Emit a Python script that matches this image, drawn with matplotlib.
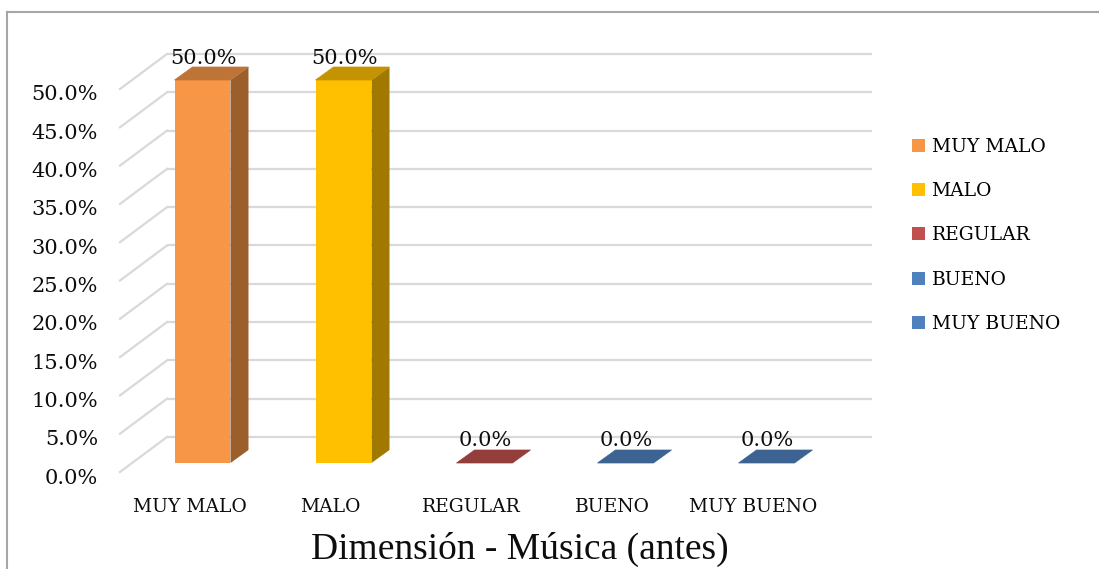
import matplotlib.pyplot as plt
from matplotlib.patches import Patch, Polygon, Rectangle
from matplotlib.transforms import ScaledTranslation


CATEGORIES = ["MUY MALO", "MALO", "REGULAR", "BUENO", "MUY BUENO"]
VALUES = [50.0, 50.0, 0.0, 0.0, 0.0]
Y_TICKS = [0, 5, 10, 15, 20, 25, 30, 35, 40, 45, 50]
TITLE = "Dimensión - Música (antes)"

COLORS = ["#F79646", "#FFC000", "#C0504D", "#4F81BD", "#4F81BD"]

DPI = 100
W_PX, H_PX = 1099, 569
GRID_COLOR = "#D9D9D9"
TEXT_COLOR = "#0d0d0d"
TICK_FONT = "DejaVu Serif"
TITLE_FONT = "Liberation Serif"


def shade(color, factor):
    r = int(color[1:3], 16) * factor
    g = int(color[3:5], 16) * factor
    b = int(color[5:7], 16) * factor
    return (r / 255, g / 255, b / 255)


def px_to_data(ax, dx_px, dy_px):
    # pixel offset -> data offset (linear scales)
    x0, y0 = ax.transData.transform((0, 0))
    x1, y1 = ax.transData.inverted().transform((x0 + dx_px, y0 + dy_px))
    return x1, y1


def px_shift(ax, dx_px, dy_px):
    return ax.transData + ScaledTranslation(dx_px / DPI, dy_px / DPI, ax.figure.dpi_scale_trans)


def draw_walls(ax, xmin, xmax):
    fx, fy = px_to_data(ax, -12, -9)
    bx, by = px_to_data(ax, 35, 26)
    for t in Y_TICKS:
        ax.plot([xmin + bx, xmax + bx], [t + by, t + by], color=GRID_COLOR, lw=1.6,
                zorder=1, clip_on=False, solid_capstyle="butt")
        ax.plot([xmin + fx, xmin + bx], [t + fy, t + by], color=GRID_COLOR, lw=1.6,
                zorder=1, clip_on=False)
        ax.text(xmin + fx, t + fy, f"{t:.1f}%", transform=px_shift(ax, -22, -6),
                ha="right", va="center", fontsize=15, family=TICK_FONT, color=TEXT_COLOR)


def draw_bars(ax, width):
    dx, dy = px_to_data(ax, 18, 13)
    for i, (value, color) in enumerate(zip(VALUES, COLORS)):
        x0 = i - width / 2
        x1 = i + width / 2
        if value > 0:
            ax.add_patch(Rectangle((x0, 0), width, value, facecolor=color, edgecolor="none",
                                   zorder=3, clip_on=False))
            side = [(x1, 0), (x1 + dx, dy), (x1 + dx, value + dy), (x1, value)]
            ax.add_patch(Polygon(side, closed=True, facecolor=shade(color, 0.63),
                                 edgecolor="none", zorder=3, clip_on=False))
        top = [(x0, value), (x1, value), (x1 + dx, value + dy), (x0 + dx, value + dy)]
        ax.add_patch(Polygon(top, closed=True, facecolor=shade(color, 0.77),
                             edgecolor=shade(color, 0.77), lw=0.5, zorder=3, clip_on=False))
        ax.text(i, value, f"{value:.1f}%", transform=px_shift(ax, 1, 22),
                ha="center", va="center", fontsize=15, family=TICK_FONT, color=TEXT_COLOR,
                zorder=4)
        ax.text(i, 0, CATEGORIES[i], transform=px_shift(ax, -13, -44),
                ha="center", va="center", fontsize=13.5, family=TICK_FONT, color=TEXT_COLOR)


def main():
    fig = plt.figure(figsize=(W_PX / DPI, H_PX / DPI), dpi=DPI)

    # frame around the chart area
    fig.add_artist(plt.Line2D([7 / W_PX, 7 / W_PX], [0, 1 - 12 / H_PX], color="#A6A6A6", lw=1.5))
    fig.add_artist(plt.Line2D([7 / W_PX, 1], [1 - 12 / H_PX, 1 - 12 / H_PX], color="#A6A6A6", lw=1.5))

    # axes = front plane of the bars
    left, right, top, bottom = 132, 837, 80, 463
    ax = fig.add_axes([left / W_PX, 1 - bottom / H_PX, (right - left) / W_PX, (bottom - top) / H_PX])
    xmin, xmax = -0.5, len(CATEGORIES) - 0.5
    ax.set_xlim(xmin, xmax)
    ax.set_ylim(0, max(Y_TICKS))
    ax.axis("off")

    draw_walls(ax, xmin, xmax)
    draw_bars(ax, 0.397)

    handles = [Patch(facecolor=c, edgecolor="none") for c in COLORS]
    fig.legend(handles, CATEGORIES, loc="upper left", bbox_to_anchor=(895 / W_PX, 1 - 121 / H_PX),
               frameon=False, handlelength=0.7, handleheight=0.7, handletextpad=0.35,
               labelspacing=1.4, prop={"family": TICK_FONT, "size": 13.5})

    fig.text(520 / W_PX, 1 - 549 / H_PX, TITLE, ha="center", va="center",
             fontsize=27, family=TITLE_FONT, color=TEXT_COLOR)

    fig.savefig("out.png", dpi=DPI)
    plt.close(fig)


if __name__ == "__main__":
    main()
